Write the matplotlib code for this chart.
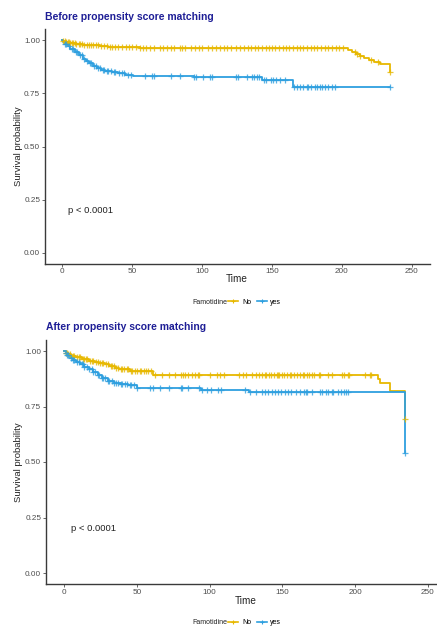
import numpy as np
import matplotlib
matplotlib.use('Agg')
import matplotlib.pyplot as plt
from matplotlib.lines import Line2D

plt.rcParams['font.family'] = ['Liberation Sans', 'DejaVu Sans']

# Kaplan-Meier steps
before_no_t = [0, 1, 3, 6, 10, 15, 20, 27, 33, 40, 48, 56, 66, 204, 207, 210, 213, 216, 219, 223, 227, 234]
before_no_s = [1.0, 0.995, 0.99, 0.986, 0.982, 0.978, 0.975, 0.972, 0.969, 0.967, 0.965, 0.963, 0.961,
               0.955, 0.946, 0.936, 0.926, 0.916, 0.906, 0.897, 0.888, 0.851]
before_yes_t = [0, 1, 2, 4, 6, 9, 12, 15, 17, 19, 22, 25, 28, 31, 36, 40, 45, 51, 94, 143, 165, 234]
before_yes_s = [1.0, 0.99, 0.982, 0.97, 0.958, 0.945, 0.93, 0.912, 0.9, 0.89, 0.878, 0.868, 0.86, 0.855,
                0.85, 0.843, 0.838, 0.833, 0.825, 0.812, 0.781, 0.781]

after_no_t = [0, 1, 3, 5, 8, 12, 17, 21, 24, 28, 31, 35, 38, 45, 61, 216, 217, 224, 234]
after_no_s = [1.0, 0.993, 0.985, 0.978, 0.972, 0.965, 0.957, 0.952, 0.947, 0.94, 0.932, 0.924, 0.918,
              0.912, 0.891, 0.872, 0.854, 0.82, 0.695]
after_yes_t = [0, 1, 2, 4, 6, 8, 11, 14, 17, 20, 23, 26, 30, 34, 39, 44, 50, 94, 127, 234]
after_yes_s = [1.0, 0.99, 0.982, 0.97, 0.96, 0.95, 0.94, 0.928, 0.92, 0.905, 0.892, 0.88, 0.866, 0.858,
               0.851, 0.845, 0.833, 0.824, 0.814, 0.542]

# censoring times
before_no_cens = [1, 2, 3, 4, 5, 6, 7, 8, 9, 10, 12, 13, 14, 16, 18, 19, 21, 22, 24, 26, 28, 30, 32, 34,
                  36, 38, 40, 43, 46, 48, 50, 53, 56, 58, 60, 63, 66, 70, 72, 75, 78, 80, 84, 86, 88, 92,
                  95, 98, 100, 104, 107, 110, 113, 116, 118, 121, 124, 127, 130, 133, 135, 138, 140, 143,
                  146, 148, 150, 152, 155, 158, 160, 162, 165, 168, 170, 172, 175, 178, 180, 182, 185, 188,
                  190, 193, 196, 198, 201, 209, 211, 213, 221, 226, 234]
before_yes_cens = [2, 3, 5, 7, 8, 10, 11, 13, 14, 16, 18, 20, 21, 23, 24, 26, 27, 29, 30, 32, 33, 35, 37,
                   38, 41, 43, 44, 47, 49, 59, 64, 66, 78, 84, 94, 96, 101, 106, 107, 124, 126, 132, 136,
                   137, 139, 141, 144, 146, 149, 151, 153, 156, 159, 166, 168, 170, 172, 175, 176, 178,
                   181, 182, 184, 186, 188, 190, 193, 195, 234]
after_no_cens = [1, 2, 3, 4, 6, 7, 9, 10, 11, 13, 14, 15, 16, 18, 19, 20, 22, 23, 25, 26, 27, 29, 30, 32,
                 33, 34, 36, 37, 39, 40, 41, 43, 44, 46, 47, 49, 50, 52, 53, 55, 56, 58, 60, 62.5, 67, 72,
                 76, 80, 82, 83, 85, 88, 90, 92, 93, 100, 105, 107, 110, 120, 123, 125, 129, 132, 134, 136,
                 138, 139, 141, 142, 144, 146, 147, 148, 150, 151, 153, 155, 156, 158, 160, 162, 164, 165,
                 167, 168, 170, 172, 175, 176, 181, 184, 191, 192, 195, 196, 207, 210, 211, 234]
after_yes_cens = [1, 2, 3, 5, 6, 7, 9, 10, 12, 13, 14, 16, 17, 19, 20, 21, 23, 24, 26, 27, 28, 30, 31, 33,
                  34, 36, 37, 39, 40, 42, 43, 45, 46, 48, 50, 59, 61, 66, 72, 80, 81, 85, 93, 95, 98, 101,
                  106, 108, 124, 128, 132, 136, 138, 140, 143, 145, 147, 149, 152, 154, 156, 159, 162, 165,
                  166, 167, 170, 176, 177, 180, 181, 184, 185, 188, 190, 192, 194, 195, 234]

groups = ['No', 'yes']
colors = ['#E7B800', '#2E9FDF']
titles = ['Before propensity score matching', 'After propensity score matching']
y_ticks = [0, 0.25, 0.5, 0.75, 1.0]
y_labels = ['0.00', '0.25', '0.50', '0.75', '1.00']
x_ticks = [0, 50, 100, 150, 200, 250]

W, H = 437, 628
fig = plt.figure(figsize=(W / 100, H / 100), dpi=100)


def px(x, y):
    return x / W, 1 - y / H


def km(ax, t, s, cens, color):
    t = np.array(t)
    s = np.array(s)
    ax.step(t, s, where='post', color=color, lw=1.3, zorder=2)
    c = np.array(cens)
    cy = s[np.searchsorted(t, c, side='right') - 1]
    ax.plot(c, cy, ls='none', marker='+', ms=4, mew=0.9, color=color, alpha=0.8, zorder=3)


panels = [
    # axes rect (px: left, top, right, bottom), xlim, data
    dict(rect=(45, 29.4, 430, 263.6), xlim=(-12.1, 262.9), title_y=17, time_y=279, leg_y=302,
         data=[(before_no_t, before_no_s, before_no_cens), (before_yes_t, before_yes_s, before_yes_cens)]),
    dict(rect=(46, 339.9, 437, 584.1), xlim=(-12.4, 256.2), title_y=327, time_y=601, leg_y=623,
         data=[(after_no_t, after_no_s, after_no_cens), (after_yes_t, after_yes_s, after_yes_cens)]),
]

for i, p in enumerate(panels):
    l, t, r, b = p['rect']
    ax = fig.add_axes([l / W, 1 - b / H, (r - l) / W, (b - t) / H])
    for (tt, ss, cc), col in zip(p['data'], colors):
        km(ax, tt, ss, cc, col)
    ax.set_xlim(*p['xlim'])
    ax.set_ylim(-0.05, 1.05)
    ax.set_xticks(x_ticks)
    ax.set_yticks(y_ticks)
    ax.set_yticklabels(y_labels)
    ax.tick_params(labelsize=5.9, colors='#4d4d4d', length=2, width=0.6, pad=1.5)
    for sp in ['top', 'right']:
        ax.spines[sp].set_visible(False)
    for sp in ['left', 'bottom']:
        ax.spines[sp].set_linewidth(1.0)
        ax.spines[sp].set_color('#3a3a3a')
    ax.text(4.5, 0.2, 'p < 0.0001', fontsize=6.8, va='center', ha='left', color='#222222')

    fig.text(*px(l, p['title_y']), titles[i], fontsize=7.5, fontweight='bold', color='#1e1e96',
             ha='left', va='center')
    fig.text(*px(19, (t + b) / 2), 'Survival probability', fontsize=6.8, rotation=90,
             ha='center', va='center', color='#222222')
    x0 = ax.transData.transform((0, 0))[0]
    x250 = ax.transData.transform((250, 0))[0]
    fig.text((x0 + x250) / 2 / W, 1 - p['time_y'] / H, 'Time', fontsize=7.2, ha='center', va='center',
             color='#222222')

    # legend
    fig.text(*px(227, p['leg_y']), 'Famotidine', fontsize=5, ha='right', va='center', color='#222222')
    handles = [Line2D([], [], color=c, lw=1.2, marker='+', ms=3.5, mew=0.8) for c in colors]
    fig.legend(handles, groups, loc='center left', bbox_to_anchor=px(228, p['leg_y']), ncol=2,
               frameon=False, fontsize=5, handlelength=1.5, handletextpad=0.5, columnspacing=0.8,
               borderaxespad=0, borderpad=0)

fig.savefig('out.png', dpi=100)
